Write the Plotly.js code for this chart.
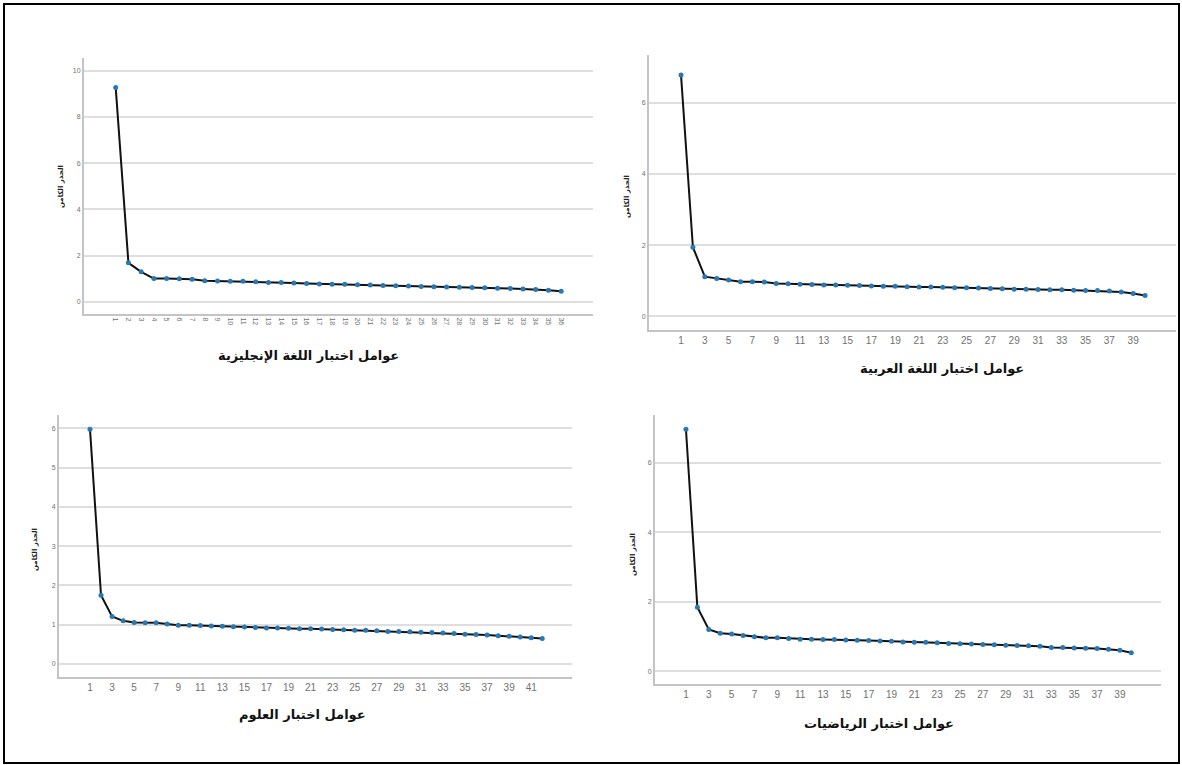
<!DOCTYPE html>
<html>
<head>
<meta charset="utf-8">
<script src="https://cdn.plot.ly/plotly-3.0.1.min.js"></script>
<style>
  html, body { margin: 0; padding: 0; background: #fff; }
  #chart { width: 1182px; height: 765px; }
</style>
</head>
<body>
<div id="chart"></div>
<script>
// ---- Data (eigenvalues) ----
const englishEigen = [9.27,1.69,1.30,1.01,1.01,1.00,0.98,0.92,0.91,0.90,0.89,0.87,0.84,0.84,0.82,0.80,0.78,0.77,0.76,0.74,0.73,0.71,0.70,0.69,0.67,0.66,0.65,0.64,0.62,0.61,0.59,0.58,0.56,0.54,0.51,0.46];
const arabicEigen = [6.79,1.94,1.11,1.06,1.02,0.97,0.97,0.96,0.92,0.91,0.90,0.89,0.88,0.88,0.87,0.86,0.85,0.84,0.84,0.83,0.82,0.82,0.81,0.80,0.80,0.79,0.78,0.77,0.76,0.76,0.75,0.74,0.74,0.73,0.72,0.72,0.71,0.68,0.64,0.58];
const scienceEigen = [5.98,1.75,1.21,1.10,1.06,1.05,1.05,1.02,0.99,0.99,0.98,0.97,0.96,0.95,0.94,0.93,0.92,0.92,0.91,0.90,0.90,0.89,0.88,0.87,0.86,0.86,0.85,0.83,0.83,0.82,0.81,0.80,0.79,0.78,0.76,0.75,0.74,0.72,0.71,0.69,0.67,0.65];
const mathEigen = [6.97,1.84,1.20,1.09,1.07,1.03,0.99,0.96,0.96,0.94,0.92,0.92,0.91,0.91,0.90,0.89,0.88,0.87,0.86,0.84,0.83,0.83,0.82,0.80,0.79,0.78,0.77,0.76,0.75,0.74,0.73,0.72,0.68,0.68,0.67,0.66,0.65,0.63,0.60,0.53];

const englishTitle = "عوامل اختبار اللغة الإنجليزية";
const arabicTitle = "عوامل اختبار اللغة العربية";
const scienceTitle = "عوامل اختبار العلوم";
const mathTitle = "عوامل اختبار الرياضيات";
const yTitle = "الجذر الكامن";

// factor numbers (categories) for each panel
const factorsOf = arr => arr.map((_, i) => i + 1);
const englishFactors = factorsOf(englishEigen);
const arabicFactors = factorsOf(arabicEigen);
const scienceFactors = factorsOf(scienceEigen);
const mathFactors = factorsOf(mathEigen);
const oddTicks = f => f.filter(v => v % 2 === 1);

// ---- Layout helpers (pixel -> paper) ----
const W = 1182, H = 765;
const px = x => x / W;
const py = y => 1 - y / H;

const lineStyle = { color: '#111111', width: 2 };
const markerStyle = { color: '#2878b5', size: 5 };

function trace(x, y, n) {
  return {
    x: x, y: y, type: 'scatter', mode: 'lines+markers',
    line: lineStyle, marker: markerStyle,
    xaxis: 'x' + (n === 1 ? '' : n), yaxis: 'y' + (n === 1 ? '' : n),
    hoverinfo: 'x+y', showlegend: false
  };
}

const data = [
  trace(englishFactors, englishEigen, 1),
  trace(arabicFactors, arabicEigen, 2),
  trace(scienceFactors, scienceEigen, 3),
  trace(mathFactors, mathEigen, 4)
];

function xaxis(x0, x1, range, tickvals, small) {
  return {
    domain: [px(x0), px(x1)], range: range,
    tickmode: 'array', tickvals: tickvals, ticktext: tickvals.map(String),
    showgrid: false, zeroline: false, showline: true,
    linecolor: '#c4c4c4', linewidth: 2, ticks: '',
    tickangle: small ? 90 : 0,
    tickfont: { family: 'Liberation Sans, Arial, sans-serif', size: small ? 7 : 10, color: '#707070' },
    fixedrange: true
  };
}
function yaxis(yTop, yBot, range, dtick, anchor) {
  return {
    domain: [py(yBot), py(yTop)], range: range,
    tickmode: 'linear', tick0: 0, dtick: dtick,
    showgrid: true, gridcolor: '#dedede', gridwidth: 2,
    zeroline: false, showline: true, linecolor: '#c4c4c4', linewidth: 2,
    ticks: '', tickfont: { family: 'Liberation Sans, Arial, sans-serif', size: 7, color: '#707070' },
    anchor: anchor, fixedrange: true
  };
}

const layout = {
  width: W, height: H, autosize: false,
  margin: { l: 0, r: 0, t: 0, b: 0, pad: 0 },
  paper_bgcolor: '#ffffff', plot_bgcolor: '#ffffff',
  xaxis: Object.assign(xaxis(84, 593, [-1.49, 38.5], englishFactors, true), { anchor: 'y' }),
  yaxis: yaxis(58, 314, [-0.52, 10.54], 2, 'x'),
  xaxis2: Object.assign(xaxis(649, 1176, [-1.69, 42.6], oddTicks(arabicFactors), false), { anchor: 'y2' }),
  yaxis2: yaxis(55, 330, [-0.39, 7.35], 2, 'x2'),
  xaxis3: Object.assign(xaxis(59, 572, [-1.81, 44.7], oddTicks(scienceFactors), false), { anchor: 'y3' }),
  yaxis3: yaxis(415, 677, [-0.33, 6.34], 1, 'x3'),
  xaxis4: Object.assign(xaxis(655, 1161, [-1.71, 42.6], oddTicks(mathFactors), false), { anchor: 'y4' }),
  yaxis4: yaxis(415, 684, [-0.37, 7.38], 2, 'x4'),
  shapes: [{
    type: 'rect', xref: 'paper', yref: 'paper',
    x0: px(4), x1: px(1179), y0: py(763), y1: py(4),
    line: { color: '#000000', width: 2 }, fillcolor: 'rgba(0,0,0,0)'
  }],
  annotations: []
};

const titleFont = { family: 'DejaVu Sans, Noto Sans, sans-serif', size: 13, color: '#111111', weight: 'bold' };
const yFont = { family: 'DejaVu Sans, Noto Sans, sans-serif', size: 7, color: '#222222', weight: 'bold' };
function ann(text, x, y, font, angle) {
  return { text: text, xref: 'paper', yref: 'paper', x: px(x), y: py(y),
    xanchor: 'center', yanchor: 'middle', showarrow: false, font: font, textangle: angle || 0 };
}
layout.annotations.push(
  ann('<b>' + englishTitle + '</b>', 308, 355, titleFont),
  ann('<b>' + arabicTitle + '</b>', 942, 368, titleFont),
  ann('<b>' + scienceTitle + '</b>', 302, 715, titleFont),
  ann('<b>' + mathTitle + '</b>', 879, 723, titleFont),
  ann('<b>' + yTitle + '</b>', 61, 187, yFont, -90),
  ann('<b>' + yTitle + '</b>', 627, 197, yFont, -90),
  ann('<b>' + yTitle + '</b>', 35, 550, yFont, -90),
  ann('<b>' + yTitle + '</b>', 633, 555, yFont, -90)
);

Plotly.newPlot('chart', data, layout, { displayModeBar: false, staticPlot: true });
</script>
</body>
</html>
